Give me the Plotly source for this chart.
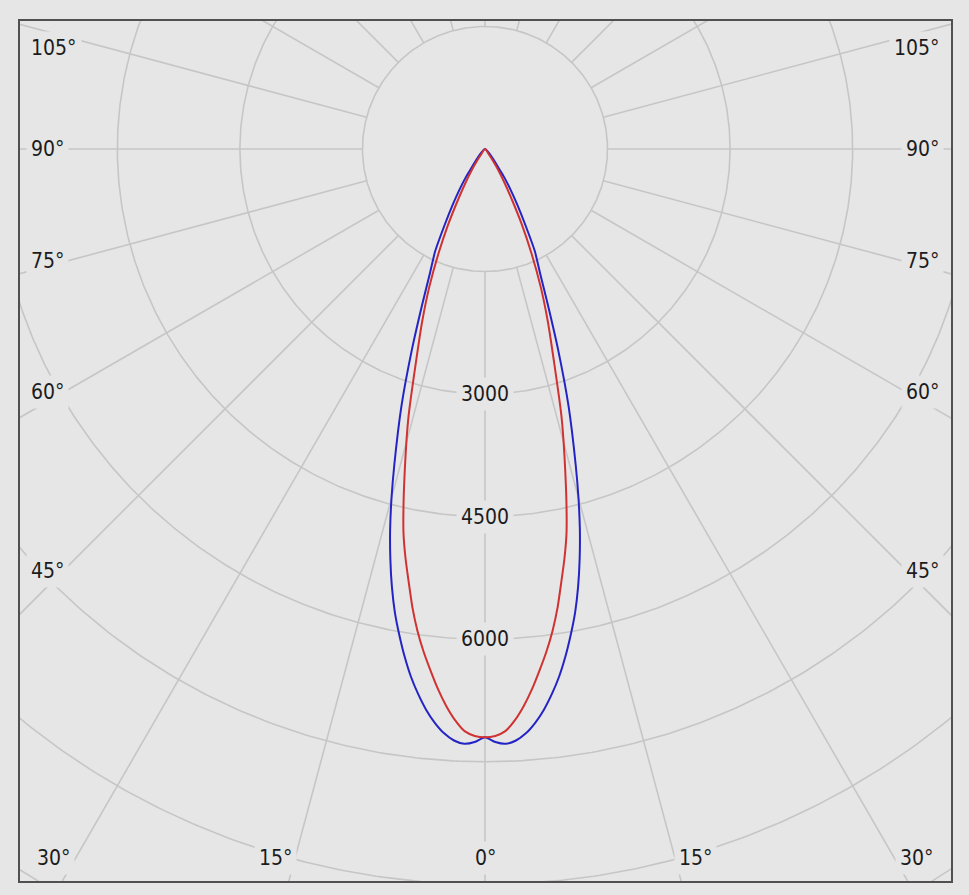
import numpy as np
import plotly.graph_objects as go

# ---------------- data ----------------
gamma_deg = [0, 1, 2, 3, 4, 5, 6, 7, 8, 9, 10, 11, 12, 13, 14, 15, 16, 18, 20, 22, 24, 26, 28, 30, 32, 34, 35, 36]
c0_c180 = [7200, 7260, 7285, 7250, 7170, 7050, 6900, 6720, 6520, 6290, 6040, 5780, 5480, 5150, 4800, 4420,
           4030, 3310, 2620, 2050, 1650, 1390, 1050, 800, 600, 430, 330, 0]          # blue curve, cd
c90_c270 = [7200, 7185, 7130, 7000, 6830, 6630, 6410, 6190, 5950, 5680, 5380, 5100, 4800, 4430, 4060, 3720,
            3390, 2730, 2250, 1820, 1400, 1030, 700, 480, 320, 180, 90, 0]           # red curve, cd

ring_values = [1500, 3000, 4500, 6000, 7500, 9000, 10500, 12000, 13500, 15000]
ring_label_values = [3000, 4500, 6000]
spoke_angles = list(range(0, 360, 15))
side_labels = ["105°", "90°", "75°", "60°", "45°", "30°"]
bottom_labels = ["15°", "0°", "15°"]

# ---------------- layout constants ----------------
W, H = 969, 895
FL, FT, FR, FB = 19, 20, 952, 882         # frame edges, px
CX, CY = 485, 149                          # pole position, px
S = 0.0817                                 # px per cd

def px2x(px):
    return (px - CX) / S

def py2y(py):
    return (CY - py) / S

BG = "#e6e6e6"
GRID = "#c6c6c6"
BLUE = "#2424c4"
RED = "#d03232"

fig = go.Figure()

# rings
rx, ry = [], []
t = np.linspace(0, 2 * np.pi, 721)
for r in ring_values:
    rx += list(r * np.sin(t)) + [None]
    ry += list(-r * np.cos(t)) + [None]
fig.add_trace(go.Scatter(x=rx, y=ry, mode="lines", line=dict(color=GRID, width=1.6),
                         hoverinfo="skip", showlegend=False))

# spokes
sx, sy = [], []
for a in spoke_angles:
    ar = np.deg2rad(a)
    sx += [ring_values[0] * np.sin(ar), 20000 * np.sin(ar), None]
    sy += [-ring_values[0] * np.cos(ar), -20000 * np.cos(ar), None]
fig.add_trace(go.Scatter(x=sx, y=sy, mode="lines", line=dict(color=GRID, width=1.6),
                         hoverinfo="skip", showlegend=False))

# curves (mirrored, symmetric distributions)
def curve(vals):
    g = np.array(gamma_deg, dtype=float)
    v = np.array(vals, dtype=float)
    ang = np.concatenate([-g[::-1], g[1:]])
    rr = np.concatenate([v[::-1], v[1:]])
    ar = np.deg2rad(ang)
    return rr * np.sin(ar), -rr * np.cos(ar)

bx, by = curve(c0_c180)
redx, redy = curve(c90_c270)
fig.add_trace(go.Scatter(x=bx, y=by, mode="lines", line=dict(color=BLUE, width=2, shape="spline", smoothing=0.6),
                         hoverinfo="skip", showlegend=False))
fig.add_trace(go.Scatter(x=redx, y=redy, mode="lines", line=dict(color=RED, width=2, shape="spline", smoothing=0.6),
                         hoverinfo="skip", showlegend=False))

FONT = dict(family="DejaVu Sans Condensed, DejaVu Sans, sans-serif", size=21, color="#1c1c1c")
annotations = []

def lab(text, x, y):
    annotations.append(dict(text=text, x=x, y=y, xref="x", yref="y", showarrow=False,
                            font=FONT, bgcolor=BG, borderpad=4, xanchor="center", yanchor="middle"))

for v in ring_label_values:
    lab(str(v), 0, -v)

left_pos = [(54, 48), (47, 149), (47, 261), (47, 392), (47, 571), (53, 858)]
right_pos = [(917, 48), (922, 149), (922, 261), (922, 392), (922, 571), (916, 858)]
for txt, (px, py) in zip(side_labels, left_pos):
    lab(txt, px2x(px), py2y(py))
for txt, (px, py) in zip(side_labels, right_pos):
    lab(txt, px2x(px), py2y(py))
bottom_pos = [(275, 858), (485, 858), (695, 858)]
for txt, (px, py) in zip(bottom_labels, bottom_pos):
    lab(txt, px2x(px), py2y(py))

fig.update_layout(
    width=W, height=H,
    margin=dict(l=FL, r=W - FR, t=FT, b=H - FB, pad=0),
    paper_bgcolor=BG, plot_bgcolor=BG,
    xaxis=dict(range=[px2x(FL), px2x(FR)], visible=False, fixedrange=True),
    yaxis=dict(range=[py2y(FB), py2y(FT)], visible=False, fixedrange=True),
    annotations=annotations,
    shapes=[dict(type="rect", xref="paper", yref="paper", x0=0, y0=0, x1=1, y1=1,
                 line=dict(color="#505050", width=2), layer="above")],
    showlegend=False,
)

fig.write_html("out.html", config={"displayModeBar": False},
               post_script="document.body.style.margin='0';document.body.style.padding='0';"
                           "document.body.style.background='#e6e6e6';")
